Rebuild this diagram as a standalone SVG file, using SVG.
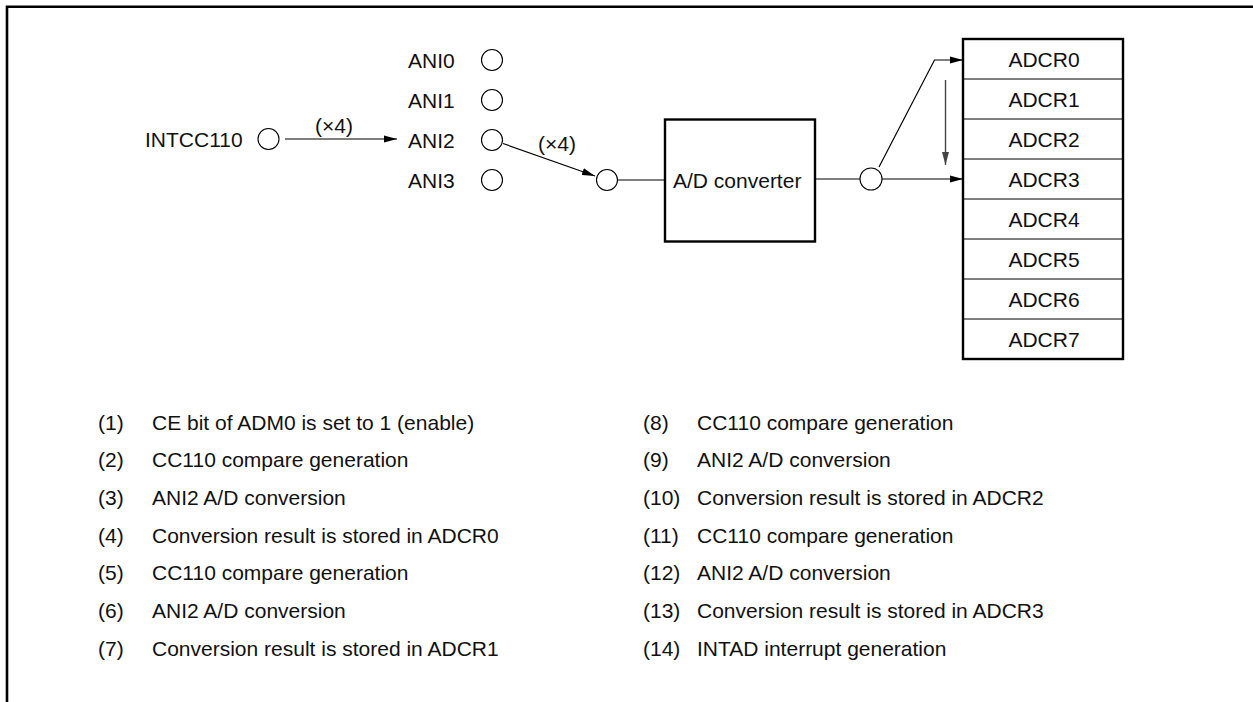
<svg xmlns="http://www.w3.org/2000/svg" width="1253" height="702" viewBox="0 0 1253 702">
<defs>
<marker id="ah" markerUnits="userSpaceOnUse" markerWidth="14" markerHeight="8" refX="13" refY="4" orient="auto">
<path d="M0,0.5 L13,4 L0,7.5 Z" fill="#000"/>
</marker>
<marker id="ahg" markerUnits="userSpaceOnUse" markerWidth="14" markerHeight="8" refX="13" refY="4" orient="auto">
<path d="M0,0.5 L13,4 L0,7.5 Z" fill="#444"/>
</marker>
<style>
text{font-family:"Liberation Sans",Arial,sans-serif;font-size:21px;fill:#111}
.pin{fill:#fff;stroke:#000;stroke-width:1.1}
.ln{fill:none;stroke:#000;stroke-width:1.2}
.mid{text-anchor:middle}
.row{fill:none;stroke:#000;stroke-width:1}
</style>
</defs>
<rect width="1253" height="702" fill="#fff"/>
<path d="M7,702 V6.7 H1253" fill="none" stroke="#000" stroke-width="2.6"/>

<g id="intcc110">
<text x="145" y="147">INTCC110</text>
<circle class="pin" cx="268.5" cy="139" r="10.5"/>
</g>
<g id="ani0"><text x="408" y="68">ANI0</text><circle class="pin" cx="492" cy="60" r="10.5"/></g>
<g id="ani1"><text x="408" y="108">ANI1</text><circle class="pin" cx="492" cy="100" r="10.5"/></g>
<g id="ani2"><text x="408" y="147.5">ANI2</text><circle class="pin" cx="492" cy="140" r="10.5"/></g>
<g id="ani3"><text x="408" y="187.5">ANI3</text><circle class="pin" cx="492" cy="180" r="10.5"/></g>
<g id="adin"><circle class="pin" cx="607" cy="180" r="10.5"/></g>
<g id="adc">
<rect x="665" y="119.5" width="150" height="122" fill="#fff" stroke="#000" stroke-width="2.4"/>
<text x="673" y="188">A/D converter</text>
</g>
<g id="adout"><circle class="pin" cx="871" cy="179" r="11"/></g>
<g id="adcr">
<rect x="963" y="39" width="160" height="320" fill="#fff" stroke="#000" stroke-width="2.4"/>
<path class="row" d="M963,79H1123M963,119H1123M963,159H1123M963,199H1123M963,239H1123M963,279H1123M963,319H1123"/>
<text class="mid" x="1044" y="66.5">ADCR0</text>
<text class="mid" x="1044" y="106.5">ADCR1</text>
<text class="mid" x="1044" y="146.5">ADCR2</text>
<text class="mid" x="1044" y="186.5">ADCR3</text>
<text class="mid" x="1044" y="226.5">ADCR4</text>
<text class="mid" x="1044" y="266.5">ADCR5</text>
<text class="mid" x="1044" y="306.5">ADCR6</text>
<text class="mid" x="1044" y="346.5">ADCR7</text>
</g>

<g id="connectors">
<line class="ln" x1="285" y1="139" x2="397" y2="139" marker-end="url(#ah)"/>
<text x="315" y="133">(×4)</text>
<line class="ln" x1="503" y1="143.5" x2="595" y2="176" marker-end="url(#ah)"/>
<text x="538" y="151">(×4)</text>
<line class="ln" x1="617.5" y1="180" x2="665" y2="180"/>
<line class="ln" x1="815" y1="179" x2="860" y2="179"/>
<line class="ln" x1="882" y1="179" x2="963" y2="179" marker-end="url(#ah)"/>
<polyline class="ln" points="879,167 934.5,60 963,60" marker-end="url(#ah)"/>
<line x1="945.5" y1="80" x2="945.5" y2="165" stroke="#444" stroke-width="1.4" marker-end="url(#ahg)"/>
</g>

<g id="legend">
<text x="98" y="429.5">(1)</text><text x="152" y="429.5">CE bit of ADM0 is set to 1 (enable)</text>
<text x="98" y="467.2">(2)</text><text x="152" y="467.2">CC110 compare generation</text>
<text x="98" y="504.9">(3)</text><text x="152" y="504.9">ANI2 A/D conversion</text>
<text x="98" y="542.6">(4)</text><text x="152" y="542.6">Conversion result is stored in ADCR0</text>
<text x="98" y="580.3">(5)</text><text x="152" y="580.3">CC110 compare generation</text>
<text x="98" y="618">(6)</text><text x="152" y="618">ANI2 A/D conversion</text>
<text x="98" y="655.7">(7)</text><text x="152" y="655.7">Conversion result is stored in ADCR1</text>
<text x="643" y="429.5">(8)</text><text x="697" y="429.5">CC110 compare generation</text>
<text x="643" y="467.2">(9)</text><text x="697" y="467.2">ANI2 A/D conversion</text>
<text x="643" y="504.9">(10)</text><text x="697" y="504.9">Conversion result is stored in ADCR2</text>
<text x="643" y="542.6">(11)</text><text x="697" y="542.6">CC110 compare generation</text>
<text x="643" y="580.3">(12)</text><text x="697" y="580.3">ANI2 A/D conversion</text>
<text x="643" y="618">(13)</text><text x="697" y="618">Conversion result is stored in ADCR3</text>
<text x="643" y="655.7">(14)</text><text x="697" y="655.7">INTAD interrupt generation</text>
</g>
</svg>
